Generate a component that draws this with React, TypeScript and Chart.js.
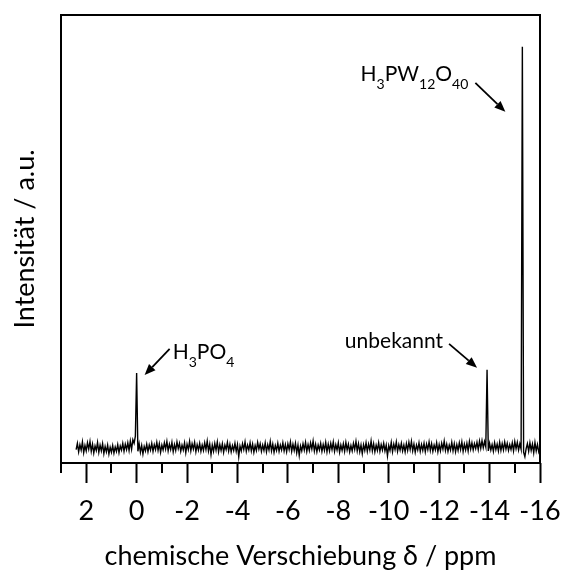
import React, { useEffect, useRef } from 'react';
import { Chart, registerables } from 'chart.js';

Chart.register(...registerables);

// Spectrum sampling: chemical shift (ppm) of the first point and the spacing between points
const ppmStart = 2.4;
const ppmStep = 0.05;

// Intensity (a.u.), one value per sample, from 2.4 ppm down to -16 ppm
const intensity = [
  3.0, 4.4, 2.5, 4.1, 2.9, 4.7, 2.3, 3.9, 2.7, 4.5, 3.1, 4.8, 2.6, 4.2, 2.2, 3.8, 2.8, 4.6, 2.4, 4.0,
  2.7, 4.3, 2.1, 3.7, 2.5, 4.0, 2.0, 3.5, 2.4, 3.9, 2.2, 3.6, 2.6, 4.1, 2.3, 3.8, 2.9, 4.4, 2.6, 4.2,
  3.0, 4.5, 2.8, 4.9, 3.1, 5.2, 4.4, 6.0, 20.1, 2.6, 4.3, 2.4, 3.9, 2.0, 3.7, 2.7, 4.2, 2.5, 4.0, 2.9,
  4.4, 2.6, 4.1, 3.0, 4.6, 2.8, 4.3, 2.4, 4.0, 2.9, 4.5, 3.1, 4.8, 2.7, 4.2, 3.0, 4.6, 2.5, 4.1, 2.8,
  4.7, 3.2, 4.4, 2.6, 4.0, 2.9, 4.5, 2.3, 4.2, 3.0, 4.8, 2.7, 4.3, 3.1, 4.6, 2.5, 4.1, 2.9, 4.4, 2.6,
  4.0, 2.8, 4.5, 3.0, 4.9, 2.7, 4.2, 1.9, 4.0, 2.6, 4.4, 2.9, 4.7, 2.5, 4.1, 2.8, 4.3, 2.4, 4.0, 3.0,
  4.6, 2.7, 4.2, 2.5, 3.9, 2.8, 4.4, 2.6, 4.1, 1.4, 3.8, 2.7, 4.3, 3.0, 4.7, 2.6, 4.0, 2.9, 4.5, 2.7,
  4.2, 2.4, 3.9, 2.8, 4.6, 3.1, 4.3, 2.6, 4.0, 2.8, 4.5, 2.5, 4.1, 2.9, 4.8, 2.7, 4.2, 2.4, 3.9, 2.8,
  4.4, 2.6, 4.0, 2.9, 4.5, 2.7, 4.1, 2.5, 4.3, 3.0, 4.7, 2.6, 4.2, 2.8, 4.4, 2.3, 4.0, 1.7, 3.8, 2.7,
  4.3, 2.9, 4.6, 2.6, 4.1, 2.8, 4.5, 3.1, 4.9, 2.7, 4.2, 2.5, 4.0, 2.9, 4.4, 2.6, 4.1, 2.8, 4.6, 2.5,
  4.2, 2.7, 4.4, 3.0, 4.7, 2.6, 4.1, 2.9, 4.5, 2.4, 4.0, 2.8, 4.3, 2.6, 4.6, 2.9, 4.2, 2.5, 3.9, 2.7,
  4.4, 3.0, 4.8, 2.7, 4.3, 2.5, 4.0, 2.1, 4.1, 2.8, 4.5, 2.6, 4.2, 2.9, 4.9, 2.7, 4.3, 2.5, 4.0, 2.8,
  4.5, 2.6, 4.1, 2.9, 4.4, 2.7, 4.0, 1.6, 3.9, 2.8, 4.6, 2.5, 4.2, 3.0, 4.7, 2.6, 4.1, 2.9, 4.4, 2.7,
  4.0, 2.5, 4.3, 2.8, 4.6, 3.0, 4.8, 2.7, 4.2, 2.4, 4.0, 2.9, 4.5, 2.6, 4.1, 2.8, 4.4, 2.5, 4.2, 3.0,
  4.7, 2.8, 4.3, 2.6, 4.0, 2.9, 4.5, 2.5, 4.1, 2.7, 4.4, 3.1, 4.9, 2.8, 4.2, 2.6, 4.0, 2.9, 4.6, 2.7,
  4.3, 2.5, 4.1, 2.8, 4.5, 3.0, 4.7, 2.6, 4.2, 2.9, 4.4, 2.7, 4.8, 3.1, 4.5, 2.9, 4.3, 3.2, 4.6, 3.0,
  4.9, 3.3, 5.0, 3.4, 4.8, 3.6, 20.8, 2.7, 4.4, 2.9, 4.1, 2.6, 4.5, 3.0, 4.2, 2.7, 4.6, 2.8, 4.3, 2.9,
  4.7, 3.1, 4.4, 2.8, 4.1, 3.0, 4.5, 2.7, 4.8, 3.2, 4.6, 2.9, 4.3, 3.1, 92.9, 2.4, 1.4, 3.2, 4.3, 2.6,
  4.5, 2.8, 4.2, 2.3, 4.6, 2.7, 4.1, 2.5, 3.4,
];

// Axis range and ticks
const xMin = -16;
const xMax = 3;
const yMin = 0;
const yMax = 100;
const majorTicks = [2, 0, -2, -4, -6, -8, -10, -12, -14, -16];
const minorTicks = [3, 1, -1, -3, -5, -7, -9, -11, -13, -15];

// Axis titles
const xTitle = 'chemische Verschiebung δ / ppm';
const yTitle = 'Intensität / a.u.';

// Peak labels: [text, subscript?] parts, and the peak they point to (ppm, intensity)
const labelH3PO4: [string, boolean][] = [['H', false], ['3', true], ['PO', false], ['4', true]];
const labelUnknown: [string, boolean][] = [['unbekannt', false]];
const labelHPW: [string, boolean][] = [['H', false], ['3', true], ['PW', false], ['12', true], ['O', false], ['40', true]];
const peakH3PO4 = { ppm: 0, value: 20.1 };
const peakUnknown = { ppm: -13.9, value: 20.8 };
const peakHPW = { ppm: -15.3, value: 92.9 };

const FONT = 'Lato, "Open Sans", sans-serif';

function drawFormula(ctx: CanvasRenderingContext2D, parts: [string, boolean][], x: number, yBase: number, alignRight: boolean) {
  const mainFont = `21px ${FONT}`;
  const subFont = `14px ${FONT}`;
  let w = 0;
  parts.forEach(([t, s]) => {
    ctx.font = s ? subFont : mainFont;
    w += ctx.measureText(t).width;
  });
  let cx = alignRight ? x - w : x;
  ctx.textAlign = 'left';
  ctx.textBaseline = 'alphabetic';
  ctx.fillStyle = '#000';
  parts.forEach(([t, s]) => {
    ctx.font = s ? subFont : mainFont;
    ctx.fillText(t, cx, s ? yBase + 8 : yBase);
    cx += ctx.measureText(t).width;
  });
}

function drawArrow(ctx: CanvasRenderingContext2D, x1: number, y1: number, x2: number, y2: number) {
  const ang = Math.atan2(y2 - y1, x2 - x1);
  const len = 11;
  const hw = 4.5;
  const bx = x2 - len * Math.cos(ang);
  const by = y2 - len * Math.sin(ang);
  ctx.strokeStyle = '#000';
  ctx.lineWidth = 1.8;
  ctx.beginPath();
  ctx.moveTo(x1, y1);
  ctx.lineTo(bx, by);
  ctx.stroke();
  ctx.fillStyle = '#000';
  ctx.beginPath();
  ctx.moveTo(x2, y2);
  ctx.lineTo(bx + hw * Math.sin(ang), by - hw * Math.cos(ang));
  ctx.lineTo(bx - hw * Math.sin(ang), by + hw * Math.cos(ang));
  ctx.closePath();
  ctx.fill();
}

const framePlugin = {
  id: 'frameAndNotes',
  afterDraw(chart: any) {
    const { ctx, chartArea: a, scales } = chart;
    const xs = scales.x;
    const ys = scales.y;
    ctx.save();
    ctx.strokeStyle = '#000';
    ctx.lineWidth = 2;
    ctx.strokeRect(a.left, a.top, a.right - a.left, a.bottom - a.top);
    minorTicks.forEach((v) => {
      const px = Math.round(xs.getPixelForValue(v));
      ctx.beginPath();
      ctx.moveTo(px, a.bottom);
      ctx.lineTo(px, a.bottom + 10);
      ctx.stroke();
    });

    // H3PO4
    {
      const px = xs.getPixelForValue(peakH3PO4.ppm);
      const py = ys.getPixelForValue(peakH3PO4.value);
      drawArrow(ctx, px + 33, py - 24, px + 8, py + 2);
      drawFormula(ctx, labelH3PO4, px + 36, py - 14, false);
    }
    // unbekannt
    {
      const px = xs.getPixelForValue(peakUnknown.ppm);
      const py = ys.getPixelForValue(peakUnknown.value);
      drawArrow(ctx, px - 38, py - 26, px - 10, py - 2);
      drawFormula(ctx, labelUnknown, px - 44, py - 22, true);
    }
    // H3PW12O40
    {
      const px = xs.getPixelForValue(peakHPW.ppm);
      const py = ys.getPixelForValue(peakHPW.value);
      drawArrow(ctx, px - 47, py + 36, px - 17, py + 65);
      drawFormula(ctx, labelHPW, px - 54, py + 34, true);
    }
    ctx.restore();
  },
};

export default function App() {
  const ref = useRef<HTMLCanvasElement>(null);
  useEffect(() => {
    const data = intensity.map((v, i) => ({ x: Math.round((ppmStart - i * ppmStep) * 100) / 100, y: v }));
    const chart = new Chart(ref.current as HTMLCanvasElement, {
      type: 'line',
      data: {
        datasets: [
          {
            data,
            borderColor: '#000',
            borderWidth: 1.4,
            pointRadius: 0,
            tension: 0,
            fill: false,
          },
        ],
      },
      options: {
        responsive: false,
        devicePixelRatio: 1,
        animation: false,
        layout: { padding: { top: 15, right: 21, left: 0, bottom: 0 } },
        plugins: { legend: { display: false }, tooltip: { enabled: false } },
        scales: {
          x: {
            type: 'linear',
            min: xMin,
            max: xMax,
            reverse: true,
            position: 'bottom',
            afterBuildTicks: (scale: any) => {
              scale.ticks = majorTicks.map((v) => ({ value: v }));
            },
            afterFit: (scale: any) => {
              scale.height = 111;
              scale.paddingLeft = 0;
              scale.paddingRight = 0;
            },
            grid: {
              drawOnChartArea: false,
              drawTicks: true,
              tickLength: 20,
              tickWidth: 2,
              tickColor: '#000',
              color: '#000',
            },
            border: { display: false },
            ticks: {
              color: '#000',
              font: { family: FONT, size: 27 },
              padding: 12,
              maxRotation: 0,
              autoSkip: false,
              callback: (v: any) => String(v),
            },
            title: {
              display: true,
              text: xTitle,
              color: '#000',
              font: { family: FONT, size: 27 },
              padding: { top: 0, bottom: 2 },
            },
          },
          y: {
            type: 'linear',
            min: yMin,
            max: yMax,
            afterFit: (scale: any) => {
              scale.width = 61;
              scale.paddingTop = 0;
              scale.paddingBottom = 0;
            },
            grid: { display: false },
            border: { display: false },
            ticks: { display: false },
            title: {
              display: true,
              text: yTitle,
              color: '#000',
              font: { family: FONT, size: 27 },
              padding: { top: 9, bottom: 0 },
            },
          },
        },
      },
      plugins: [framePlugin],
    });
    return () => chart.destroy();
  }, []);
  return (
    <div style={{ position: 'fixed', left: 0, top: 0, width: 561, height: 574, background: '#fff' }}>
      <canvas ref={ref} width={561} height={574} style={{ display: 'block' }} />
    </div>
  );
}
